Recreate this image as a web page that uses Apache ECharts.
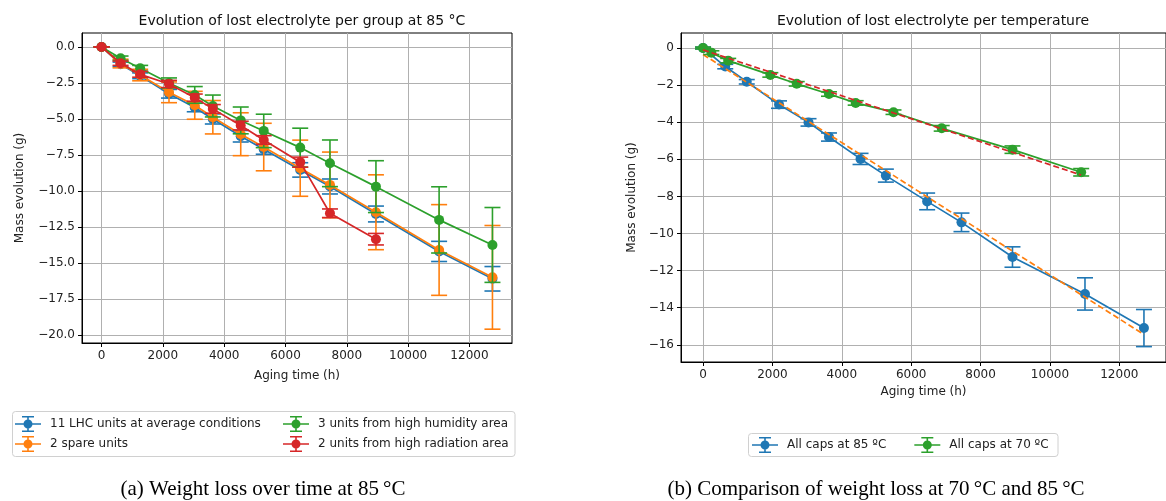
<!DOCTYPE html>
<html><head><meta charset="utf-8">
<script src="https://cdn.jsdelivr.net/npm/echarts@6/dist/echarts.min.js"></script>
<style>html,body{margin:0;padding:0;background:#fff}#c{width:1166px;height:501px}</style>
</head><body><div id="c"></div><script>
// ---- Panel (a): weight loss per group at 85 °C ----
const hoursA = [0, 620, 1260, 2200, 3040, 3630, 4540, 5290, 6480, 7450, 8950, 11010, 12750];
const lhcMass = [0, -1.2, -2.0, -3.25, -4.2, -5.0, -6.2, -7.1, -8.54, -9.69, -11.6, -14.2, -16.1];
const lhcErr = [0, 0.15, 0.2, 0.3, 0.3, 0.35, 0.4, 0.35, 0.5, 0.52, 0.55, 0.7, 0.85];
const spareMass = [0, -1.15, -1.95, -3.15, -4.05, -4.88, -6.06, -6.95, -8.42, -9.58, -11.48, -14.1, -16.0];
const spareErr = [0, 0.3, 0.4, 0.72, 0.97, 1.16, 1.49, 1.65, 1.95, 2.28, 2.6, 3.15, 3.6];
const humidMass = [0, -0.78, -1.48, -2.5, -3.33, -4.1, -5.1, -5.83, -6.99, -8.08, -9.7, -12.01, -13.75];
const humidErr = [0, 0.15, 0.2, 0.35, 0.58, 0.76, 0.93, 1.16, 1.35, 1.62, 1.8, 2.3, 2.6];
const hoursRad = [0, 620, 1260, 2200, 3040, 3630, 4540, 5290, 6480, 7450, 8950];
const radMass = [0, -1.13, -1.9, -2.57, -3.52, -4.3, -5.46, -6.46, -8.0, -11.55, -13.35];
const radErr = [0, 0.15, 0.2, 0.25, 0.25, 0.3, 0.3, 0.3, 0.35, 0.3, 0.4];
const ticksAx = [0, 2000, 4000, 6000, 8000, 10000, 12000];
const ticksAy = [0, -2.5, -5, -7.5, -10, -12.5, -15, -17.5, -20];

// ---- Panel (b): 85 °C vs 70 °C ----
const hours85 = [0, 640, 1260, 2190, 3040, 3630, 4540, 5270, 6460, 7450, 8920, 11010, 12710];
const mass85 = [0, -1.0, -1.82, -3.05, -4.01, -4.8, -5.98, -6.88, -8.27, -9.4, -11.27, -13.26, -15.1];
const err85 = [0.05, 0.12, 0.12, 0.2, 0.2, 0.22, 0.3, 0.35, 0.45, 0.5, 0.55, 0.87, 1.0];
const hours70 = [0, 240, 725, 1940, 2700, 3630, 4400, 5490, 6880, 8920, 10900];
const mass70 = [0, -0.25, -0.68, -1.45, -1.93, -2.48, -2.96, -3.46, -4.33, -5.48, -6.7];
const err70 = [0.05, 0.1, 0.12, 0.12, 0.12, 0.12, 0.12, 0.12, 0.15, 0.2, 0.2];
const fit85Hours = [0, 12710];
const fit85Mass = [-0.35, -15.45];
const fit70Hours = [0, 10900];
const fit70Mass = [-0.1, -6.85];
const ticksBx = [0, 2000, 4000, 6000, 8000, 10000, 12000];
const ticksBy = [0, -2, -4, -6, -8, -10, -12, -14, -16];

const C = {blue:'#1f77b4', orange:'#ff7f0e', green:'#2ca02c', red:'#d62728'};
const FF = 'DejaVu Sans';
const TXT = '#222';
const ICON = 'path://M0,7.2H26V8.8H0Z M12.2,0H13.8V16H12.2Z M7,0H19V1.6H7Z M7,14.4H19V16H7Z M8.5,8A4.5,4.5 0 1,1 17.5,8A4.5,4.5 0 1,1 8.5,8Z';

function zip(xs, ys){ return xs.map((x,i)=>[x, ys[i]]); }
function errSeries(name, xs, ys, es, color, idx, z){
  return {
    type:'custom', name, xAxisIndex:idx, yAxisIndex:idx, z, silent:true, clip:false,
    data: xs.map((x,i)=>[x, ys[i], es[i]]),
    renderItem(params, api){
      const x = api.value(0), y = api.value(1), e = api.value(2);
      const p1 = api.coord([x, y + e]), p2 = api.coord([x, y - e]);
      const w = 8, st = {stroke: color, lineWidth: 1.6};
      return {type:'group', children:[
        {type:'line', shape:{x1:p1[0], y1:p1[1], x2:p2[0], y2:p2[1]}, style:st},
        {type:'line', shape:{x1:p1[0]-w, y1:p1[1], x2:p1[0]+w, y2:p1[1]}, style:st},
        {type:'line', shape:{x1:p2[0]-w, y1:p2[1], x2:p2[0]+w, y2:p2[1]}, style:st}
      ]};
    }
  };
}
function lineSeries(name, xs, ys, color, idx, z){
  return {type:'line', name, xAxisIndex:idx, yAxisIndex:idx, z, data: zip(xs, ys),
    symbol:'circle', symbolSize:10, showSymbol:true, animation:false,
    lineStyle:{color, width:1.7}, itemStyle:{color, opacity:1}, emphasis:{disabled:true}};
}
function dashSeries(xs, ys, color, idx, z){
  return {type:'line', xAxisIndex:idx, yAxisIndex:idx, z, data: zip(xs, ys), symbol:'none',
    animation:false, silent:true, lineStyle:{color, width:1.7, type:[6,3]}};
}
function xAxisCfg(gi, min, max, ticks, gap){
  return {gridIndex:gi, type:'value', min, max,
    axisLine:{show:true, onZero:false, lineStyle:{color:'#000', width:1}},
    axisTick:{show:true, length:4, customValues:ticks, lineStyle:{color:'#000'}},
    axisLabel:{customValues:ticks, fontSize:12, color:TXT, fontFamily:FF, margin:7, formatter: v => String(v)},
    splitLine:{show:true, lineStyle:{color:'#b0b0b0', width:1}},
    name:'Aging time (h)', nameLocation:'middle', nameGap:gap,
    nameTextStyle:{fontSize:12, color:TXT, fontFamily:FF}};
}
function yAxisCfg(gi, min, max, ticks, fmt, gap){
  return {gridIndex:gi, type:'value', min, max,
    axisLine:{show:true, onZero:false, lineStyle:{color:'#000', width:1}},
    axisTick:{show:true, length:4, customValues:ticks, lineStyle:{color:'#000'}},
    axisLabel:{customValues:ticks, fontSize:12, color:TXT, fontFamily:FF, margin:7, formatter:fmt},
    splitLine:{show:true, lineStyle:{color:'#b0b0b0', width:1}},
    name:'Mass evolution (g)', nameLocation:'middle', nameGap:gap, nameRotate:90,
    nameTextStyle:{fontSize:12, color:TXT, fontFamily:FF}};
}
const fmtA = v => v === 0 ? '0.0' : '\u2212' + Math.abs(v).toFixed(1);
const fmtB = v => v === 0 ? '0' : '\u2212' + Math.abs(v);

const N = {lhc:'11 LHC units at average conditions', spare:'2 spare units',
  humid:'3 units from high humidity area', rad:'2 units from high radiation area',
  c85:'All caps at 85 \u00baC', c70:'All caps at 70 \u00baC'};

const legText = {fontSize:12, color:TXT, fontFamily:FF, padding:[0,0,0,4]};
const option = {
  backgroundColor:'#fff',
  animation:false,
  title:[
    {text:'Evolution of lost electrolyte per group at 85 \u00b0C', left:297, top:9, textAlign:'center',
     textStyle:{fontSize:14, fontWeight:'normal', color:'#111', fontFamily:FF}},
    {text:'Evolution of lost electrolyte per temperature', left:928, top:9, textAlign:'center',
     textStyle:{fontSize:14, fontWeight:'normal', color:'#111', fontFamily:FF}}
  ],
  grid:[
    {left:82, top:33, width:430, height:310, show:true, borderColor:'#000', borderWidth:1, backgroundColor:'transparent'},
    {left:681, top:33, width:494, height:329, show:true, borderColor:'#000', borderWidth:1, backgroundColor:'transparent'}
  ],
  xAxis:[ xAxisCfg(0, -637.5, 13387.5, ticksAx, 27), xAxisCfg(1, -635.5, 13345.5, ticksBx, 24) ],
  yAxis:[ yAxisCfg(0, -20.56, 0.97, ticksAy, fmtA, 56), yAxisCfg(1, -16.93, 0.81, ticksBy, fmtB, 43) ],
  legend:[
    {orient:'vertical', left:15, top:416, padding:0, itemWidth:26, itemHeight:16, itemGap:4, selectedMode:false,
     textStyle:legText, data:[{name:N.lhc, icon:ICON, itemStyle:{color:C.blue}}, {name:N.spare, icon:ICON, itemStyle:{color:C.orange}}]},
    {orient:'vertical', left:283, top:416, padding:0, itemWidth:26, itemHeight:16, itemGap:4, selectedMode:false,
     textStyle:legText, data:[{name:N.humid, icon:ICON, itemStyle:{color:C.green}}, {name:N.rad, icon:ICON, itemStyle:{color:C.red}}]},
    {orient:'horizontal', left:752, top:437, padding:0, itemWidth:26, itemHeight:16, itemGap:28, selectedMode:false,
     textStyle:legText, data:[{name:N.c85, icon:ICON, itemStyle:{color:C.blue}}, {name:N.c70, icon:ICON, itemStyle:{color:C.green}}]}
  ],
  graphic:[
    {type:'rect', shape:{x:12.5, y:411.5, width:502.5, height:45, r:3}, style:{fill:'#fff', stroke:'#d0d0d0', lineWidth:1}, z:-1, silent:true},
    {type:'rect', shape:{x:748.5, y:433.5, width:309.5, height:23, r:3}, style:{fill:'#fff', stroke:'#d0d0d0', lineWidth:1}, z:-1, silent:true},
    {type:'text', x:263, y:489, silent:true, style:{text:'(a) Weight loss over time at 85\u2009\u00b0C', font:'21px "Liberation Serif"', fill:'#000', align:'center', verticalAlign:'middle'}},
    {type:'text', x:876, y:489, silent:true, style:{text:'(b) Comparison of weight loss at 70\u2009\u00b0C and 85\u2009\u00b0C', font:'21px "Liberation Serif"', fill:'#000', align:'center', verticalAlign:'middle'}}
  ],
  series:[
    errSeries(N.lhc, hoursA, lhcMass, lhcErr, C.blue, 0, 3),
    lineSeries(N.lhc, hoursA, lhcMass, C.blue, 0, 4),
    errSeries(N.spare, hoursA, spareMass, spareErr, C.orange, 0, 5),
    lineSeries(N.spare, hoursA, spareMass, C.orange, 0, 6),
    errSeries(N.humid, hoursA, humidMass, humidErr, C.green, 0, 7),
    lineSeries(N.humid, hoursA, humidMass, C.green, 0, 8),
    errSeries(N.rad, hoursRad, radMass, radErr, C.red, 0, 9),
    lineSeries(N.rad, hoursRad, radMass, C.red, 0, 10),

    errSeries(N.c85, hours85, mass85, err85, C.blue, 1, 3),
    lineSeries(N.c85, hours85, mass85, C.blue, 1, 4),
    dashSeries(fit85Hours, fit85Mass, C.orange, 1, 5),
    errSeries(N.c70, hours70, mass70, err70, C.green, 1, 6),
    lineSeries(N.c70, hours70, mass70, C.green, 1, 7),
    dashSeries(fit70Hours, fit70Mass, C.red, 1, 8)
  ]
};
const chart = echarts.init(document.getElementById('c'), null, {renderer:'canvas'});
chart.setOption(option);
</script></body></html>
